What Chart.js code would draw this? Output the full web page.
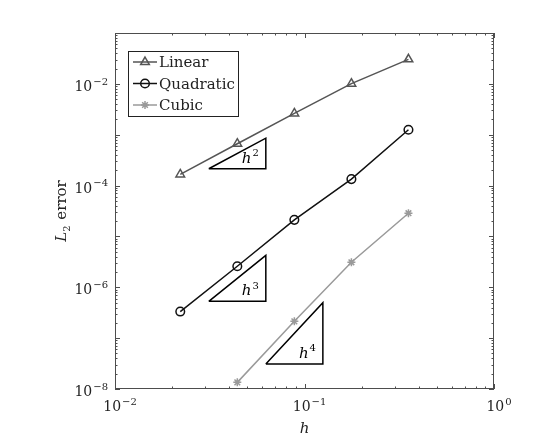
<!DOCTYPE html>
<html>
<head>
<meta charset="utf-8">
<script src="https://cdn.jsdelivr.net/npm/chart.js@4/dist/chart.umd.min.js"></script>
<style>
html, body { margin: 0; padding: 0; background: #fff; }
#wrap { width: 540px; height: 437px; }
</style>
</head>
<body>
<div id="wrap"><canvas id="chart" width="540" height="437"></canvas></div>
<script>
// mesh size and L2 errors
const hValues = [0.0221, 0.0442, 0.0884, 0.1768, 0.3536];
const linearErr = [1.66e-4, 6.65e-4, 2.62e-3, 1.01e-2, 3.03e-2];
const quadraticErr = [3.33e-7, 2.59e-6, 2.12e-5, 1.34e-4, 1.25e-3];
const cubicH = [0.0442, 0.0884, 0.1768, 0.3536];
const cubicErr = [1.35e-8, 2.14e-7, 3.10e-6, 2.86e-5];
const seriesNames = ['Linear', 'Quadratic', 'Cubic'];

// slope triangles: left/right h, bottom error, order
const slopeX0 = [0.03125, 0.03125, 0.0625];
const slopeX1 = [0.0625, 0.0625, 0.125];
const slopeY0 = [2.14e-4, 5.3e-7, 3.1e-8];
const slopeOrder = [2, 3, 4];

// tick labels (powers of ten)
const xTickExps = [-2, -1, 0];
const yTickExps = [-8, -6, -4, -2];

const SERIF = '"DejaVu Serif", "Liberation Serif", serif';
const MINUS = '\u2212';

function pts(xs, ys) {
    return xs.map((x, i) => ({x: x, y: ys[i]}));
}

const datasets = [
    {
        label: seriesNames[0],
        data: pts(hValues, linearErr),
        borderColor: '#555555',
        backgroundColor: 'rgba(0,0,0,0)',
        borderWidth: 1.5,
        pointStyle: 'triangle',
        pointRadius: 5,
        pointBorderWidth: 1.5,
        showLine: true
    },
    {
        label: seriesNames[1],
        data: pts(hValues, quadraticErr),
        borderColor: '#111111',
        backgroundColor: 'rgba(0,0,0,0)',
        borderWidth: 1.5,
        pointStyle: 'circle',
        pointRadius: 4.3,
        pointBorderWidth: 1.5,
        showLine: true
    },
    {
        label: seriesNames[2],
        data: pts(cubicH, cubicErr),
        borderColor: '#9a9a9a',
        backgroundColor: 'rgba(0,0,0,0)',
        borderWidth: 1.5,
        pointStyle: 'star',
        pointRadius: 4,
        pointBorderWidth: 1.5,
        showLine: true
    }
];

for (let i = 0; i < slopeOrder.length; i++) {
    const y1 = slopeY0[i] * Math.pow(2, slopeOrder[i]);
    datasets.push({
        label: 'slope' + slopeOrder[i],
        data: [
            {x: slopeX0[i], y: slopeY0[i]},
            {x: slopeX1[i], y: slopeY0[i]},
            {x: slopeX1[i], y: y1},
            {x: slopeX0[i], y: slopeY0[i]}
        ],
        borderColor: '#000000',
        borderWidth: 1.5,
        pointRadius: 0,
        showLine: true,
        isSlope: true
    });
}

function powText(ctx, base, exp, x, y, align, size, expSize, italic) {
    const f1 = (italic ? 'italic ' : '') + size + 'px ' + SERIF;
    const f2 = expSize + 'px ' + SERIF;
    ctx.font = f1;
    const wb = ctx.measureText(base).width;
    ctx.font = f2;
    const we = ctx.measureText(exp).width;
    const total = wb + 1 + we;
    let left = x;
    if (align === 'right') left = x - total;
    if (align === 'center') left = x - total / 2;
    ctx.textAlign = 'left';
    ctx.textBaseline = 'alphabetic';
    ctx.font = f1;
    ctx.fillText(base, left, y);
    ctx.font = f2;
    ctx.fillText(exp, left + wb + 1, y - size * 0.45);
}

const decorations = {
    id: 'decorations',
    afterDraw(chart) {
        const ctx = chart.ctx;
        const a = chart.chartArea;
        const xs = chart.scales.x, ys = chart.scales.y;
        ctx.save();

        // axes box
        ctx.strokeStyle = '#4d4d4d';
        ctx.lineWidth = 1;
        ctx.strokeRect(a.left + 0.5, a.top + 0.5, a.right - a.left - 1, a.bottom - a.top - 1);

        // inward ticks on all four sides
        ctx.beginPath();
        for (let k = -2; k <= 0; k++) {
            for (let m = 1; m <= 9; m++) {
                const v = m * Math.pow(10, k);
                if (v < xs.min - 1e-12 || v > xs.max + 1e-12) continue;
                const px = Math.round(xs.getPixelForValue(v)) + 0.5;
                const len = m === 1 ? 5 : 2.5;
                ctx.moveTo(px, a.bottom); ctx.lineTo(px, a.bottom - len);
                ctx.moveTo(px, a.top); ctx.lineTo(px, a.top + len);
            }
        }
        for (let k = -8; k <= -1; k++) {
            for (let m = 1; m <= 9; m++) {
                const v = m * Math.pow(10, k);
                if (v < ys.min * 0.999 || v > ys.max * 1.001) continue;
                const py = Math.round(ys.getPixelForValue(v)) + 0.5;
                const len = m === 1 ? 5 : 2.5;
                ctx.moveTo(a.left, py); ctx.lineTo(a.left + len, py);
                ctx.moveTo(a.right, py); ctx.lineTo(a.right - len, py);
            }
        }
        ctx.stroke();

        // tick labels
        ctx.fillStyle = '#222222';
        xTickExps.forEach(e => {
            const px = xs.getPixelForValue(Math.pow(10, e));
            powText(ctx, '10', e < 0 ? MINUS + (-e) : String(e), px + 5, 411, 'center', 14, 10, false);
        });
        yTickExps.forEach(e => {
            const py = ys.getPixelForValue(Math.pow(10, e));
            powText(ctx, '10', MINUS + (-e), a.left - 7, py + 7, 'right', 14, 10, false);
        });

        // axis titles
        ctx.font = 'italic 15px ' + SERIF;
        ctx.textAlign = 'center';
        ctx.textBaseline = 'alphabetic';
        ctx.fillText('h', (a.left + a.right) / 2, 433);

        ctx.save();
        ctx.translate(66, (a.top + a.bottom) / 2);
        ctx.rotate(-Math.PI / 2);
        ctx.textAlign = 'left';
        ctx.font = 'italic 15px ' + SERIF;
        const wL = ctx.measureText('L').width;
        ctx.font = '10px ' + SERIF;
        const w2 = ctx.measureText('2').width;
        ctx.font = '15px ' + SERIF;
        const wE = ctx.measureText(' error').width;
        let lx = -(wL + w2 + 1 + wE) / 2;
        ctx.font = 'italic 15px ' + SERIF;
        ctx.fillText('L', lx, 0);
        ctx.font = '10px ' + SERIF;
        ctx.fillText('2', lx + wL, 4);
        ctx.font = '15px ' + SERIF;
        ctx.fillText(' error', lx + wL + w2 + 1, 0);
        ctx.restore();

        // slope labels
        ctx.fillStyle = '#000000';
        for (let i = 0; i < slopeOrder.length; i++) {
            const l = xs.getPixelForValue(slopeX0[i]);
            const r = xs.getPixelForValue(slopeX1[i]);
            const b = ys.getPixelForValue(slopeY0[i]);
            powText(ctx, 'h', String(slopeOrder[i]), l + 0.58 * (r - l), b - 6, 'left', 15, 10, true);
        }

        // legend
        const bx = 128, by = 51, bw = 110, bh = 65;
        ctx.fillStyle = '#ffffff';
        ctx.fillRect(bx, by, bw, bh);
        ctx.strokeStyle = '#222222';
        ctx.lineWidth = 1;
        ctx.strokeRect(bx + 0.5, by + 0.5, bw, bh);
        const rowY = [62, 83.5, 105];
        for (let i = 0; i < 3; i++) {
            const ds = chart.data.datasets[i];
            const y = rowY[i];
            ctx.strokeStyle = ds.borderColor;
            ctx.lineWidth = ds.borderWidth;
            ctx.beginPath();
            ctx.moveTo(133, y); ctx.lineTo(157, y);
            ctx.stroke();
            ctx.fillStyle = 'rgba(0,0,0,0)';
            ctx.lineWidth = ds.pointBorderWidth;
            Chart.helpers.drawPoint(ctx, {
                pointStyle: ds.pointStyle, radius: ds.pointRadius, rotation: 0, borderWidth: ds.pointBorderWidth
            }, 145, y);
            ctx.fillStyle = '#222222';
            ctx.font = '15px ' + SERIF;
            ctx.textAlign = 'left';
            ctx.textBaseline = 'alphabetic';
            ctx.fillText(ds.label, 159, y + 5);
        }
        ctx.restore();
    }
};

const config = {
    type: 'scatter',
    data: {datasets: datasets},
    options: {
        responsive: false,
        animation: false,
        layout: {padding: {top: 33, right: 46, bottom: 0, left: 0}},
        plugins: {legend: {display: false}, tooltip: {enabled: false}},
        scales: {
            x: {
                type: 'logarithmic', min: 0.01, max: 1,
                grid: {display: false, drawTicks: false},
                border: {display: false},
                ticks: {display: false},
                afterFit: s => { s.height = 48; }
            },
            y: {
                type: 'logarithmic', min: 1e-8, max: 1e-1,
                grid: {display: false, drawTicks: false},
                border: {display: false},
                ticks: {display: false},
                afterFit: s => { s.width = 115; }
            }
        }
    },
    plugins: [decorations]
};

var myChart = new Chart(document.getElementById('chart'), config);
</script>
</body>
</html>
